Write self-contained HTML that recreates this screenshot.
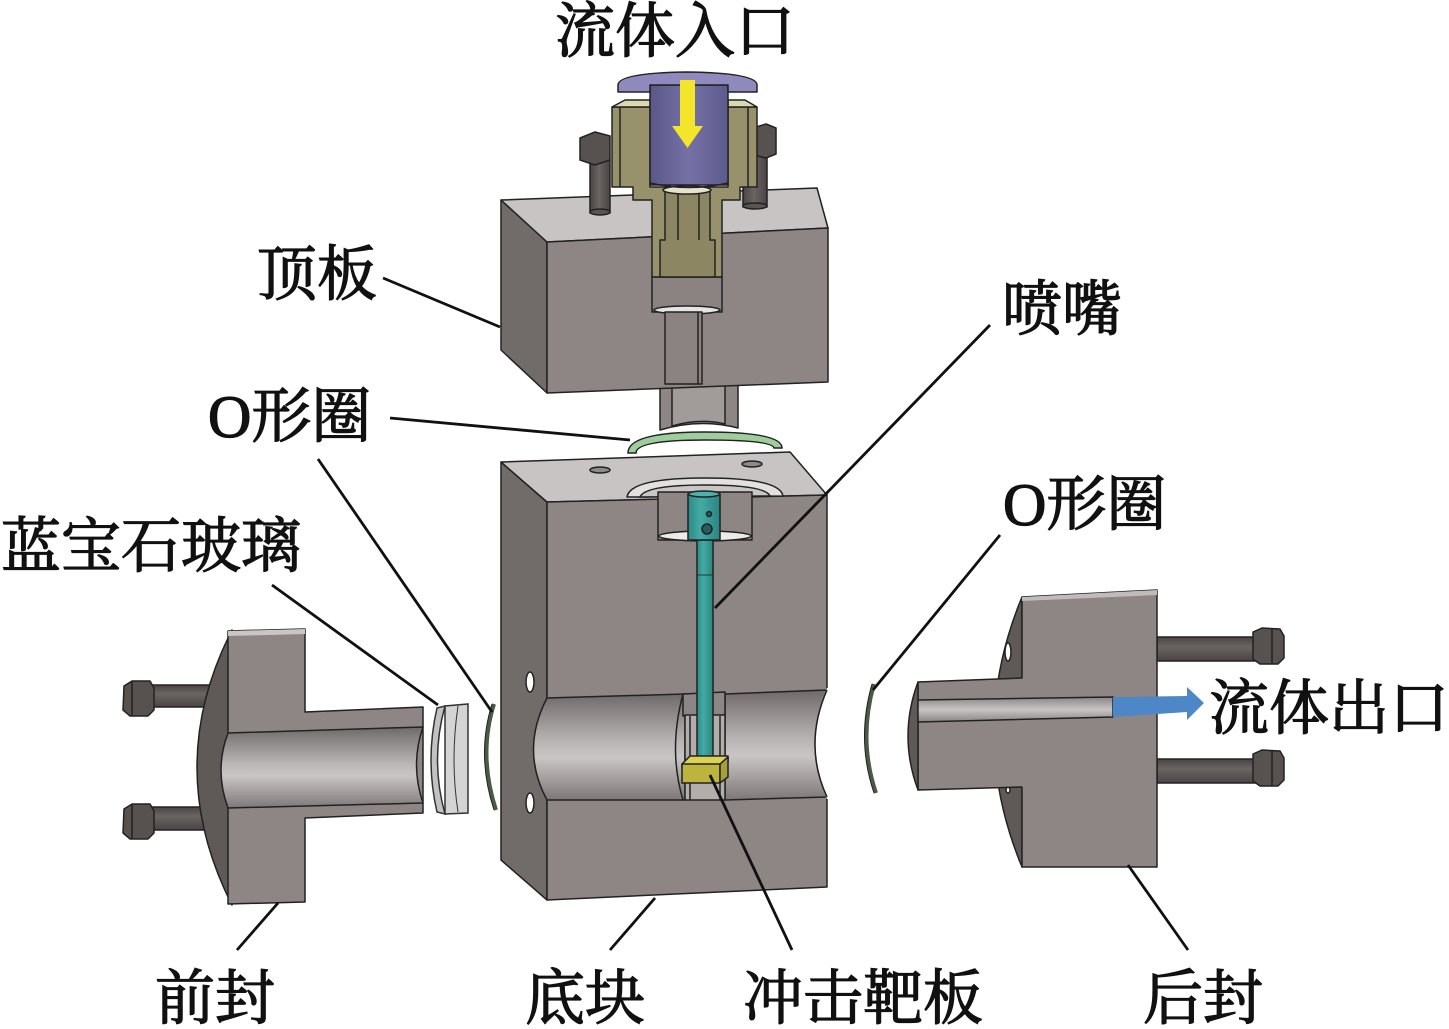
<!DOCTYPE html>
<html><head><meta charset="utf-8"><style>
html,body{margin:0;padding:0;background:#fff;}
svg{display:block;}
text{font-family:"Liberation Serif","Noto Serif CJK SC",serif;font-size:60px;fill:#111;stroke:#111;stroke-width:1.3px;}
</style></head><body>
<svg width="1449" height="1029" viewBox="0 0 1449 1029" xmlns="http://www.w3.org/2000/svg">
<defs>
<linearGradient id="chan" x1="0" y1="0" x2="0" y2="1">
<stop offset="0" stop-color="#6f6a69"/><stop offset="0.45" stop-color="#b9b5b4"/><stop offset="0.6" stop-color="#c9c5c4"/><stop offset="1" stop-color="#7d7877"/>
</linearGradient>
<linearGradient id="teal" x1="0" y1="0" x2="1" y2="0">
<stop offset="0" stop-color="#2b8c87"/><stop offset="0.4" stop-color="#44aaa5"/><stop offset="1" stop-color="#2a8581"/>
</linearGradient>
<linearGradient id="purp" x1="0" y1="0" x2="1" y2="0">
<stop offset="0" stop-color="#5a5788"/><stop offset="0.5" stop-color="#7571a6"/><stop offset="1" stop-color="#5d5a8c"/>
</linearGradient>
<linearGradient id="bolt" x1="0" y1="0" x2="0" y2="1">
<stop offset="0" stop-color="#4a4544"/><stop offset="0.4" stop-color="#6a6563"/><stop offset="1" stop-color="#4a4544"/>
</linearGradient>
<linearGradient id="boltv" x1="0" y1="0" x2="1" y2="0">
<stop offset="0" stop-color="#4a4544"/><stop offset="0.45" stop-color="#6a6563"/><stop offset="1" stop-color="#4a4544"/>
</linearGradient>
<linearGradient id="strip" x1="0" y1="0" x2="0" y2="1">
<stop offset="0" stop-color="#8a8584"/><stop offset="0.5" stop-color="#c8c4c3"/><stop offset="1" stop-color="#8a8584"/>
</linearGradient>
</defs>

<!-- ================= TOP PLATE ================= -->
<g stroke="#222" stroke-width="1.5" stroke-linejoin="round">
<path d="M660,380 L738,378 L738,428 Q700,418 660,430 Z" fill="#8e8685"/>
<path d="M672,386 L725,385 L725,424 Q700,418 672,426 Z" fill="#a19c9a"/>
<polygon points="501,200 547,242 547,393 501,350" fill="#716c6a"/>
<polygon points="501,200 817,188 828,228 547,242" fill="#c7c4c3"/>
<polygon points="547,242 828,228 828,382 547,393" fill="#8e8685"/>
<rect x="652" y="277" width="70" height="35" fill="#8a8381"/>
<ellipse cx="687" cy="310" rx="33" ry="4" fill="#e6e4e3"/>
<rect x="665" y="312" width="37" height="72" fill="#8a8381"/>
<line x1="698" y1="312" x2="698" y2="384"/>

<rect x="590" y="160" width="20" height="53" fill="url(#boltv)"/>
<ellipse cx="600" cy="212" rx="10" ry="3" fill="#5a5553"/>
<polygon points="580,138 595,132 610,136 610,160 595,165 580,160" fill="#57524f"/>
<rect x="743" y="155" width="24" height="52" fill="url(#boltv)"/>
<ellipse cx="755" cy="206" rx="12" ry="3" fill="#5a5553"/>
<polygon points="753,128 766,124 776,128 776,154 766,158 753,155" fill="#57524f"/>

<path d="M612,107 L650,107 L650,187 L728,187 L728,107 L757,107 L757,187 L740,187 L740,200 L722,200 L722,277 L652,277 L652,200 L633,200 L633,187 L612,187 Z" fill="#98926c"/>
<polygon points="612,107 625,100 650,100 650,107" fill="#dcd8ae"/>
<polygon points="728,100 745,100 757,107 728,107" fill="#dcd8ae"/>
<line x1="620" y1="107" x2="620" y2="187"/>
<line x1="748" y1="107" x2="748" y2="187"/>
<path d="M665,190 L710,190 L710,240 L715,240 L715,277 L660,277 L660,240 L665,240 Z" fill="#8c8662"/>
<line x1="678" y1="190" x2="678" y2="240"/>
<line x1="699" y1="190" x2="699" y2="240"/>
<ellipse cx="687" cy="190" rx="24" ry="4" fill="#e6e3cc"/>
<rect x="650" y="85" width="78" height="100" fill="url(#purp)"/>
<path d="M650,183 Q689,192 728,183" fill="none"/>
<path d="M618,85 Q618,73 687,72 Q757,73 757,85 L757,92 L728,92 L728,85 L650,85 L650,92 L618,92 Z" fill="#8e8abd"/>
<polygon points="680,80 695,80 695,126 703,126 687.5,148 672,126 680,126" fill="#f2e52a" stroke="none"/>
</g>

<path d="M628,453 Q628,432 705,432 Q782,432 782,448 L774,448 Q772,440 705,440 Q636,440 636,453 Z" fill="#9fcd9c" stroke="#222" stroke-width="1.5"/>

<!-- ================= BASE BLOCK ================= -->
<g stroke="#222" stroke-width="1.5" stroke-linejoin="round">
<polygon points="501,462 547,502 547,900 501,860" fill="#716c6a"/>
<polygon points="501,462 790,452 827,495 547,502" fill="#c7c4c3"/>
<polygon points="547,502 827,495 827,887 547,900" fill="#8e8685"/>
<ellipse cx="600" cy="470" rx="10" ry="3" fill="#8e8a89"/>
<ellipse cx="752" cy="464" rx="10" ry="3" fill="#8e8a89"/>
<path d="M627,497 Q630,478 705,478 Q780,478 783,496 Z" fill="#e3e1e0"/>
<path d="M640,497 Q645,485 705,485 Q765,485 770,496 Z" fill="#c9c6c5"/>
<rect x="658" y="492" width="94" height="48" fill="#8e8685"/>
<ellipse cx="705" cy="536" rx="46" ry="5" fill="#ecebea"/>
<ellipse cx="530" cy="682" rx="4" ry="10" fill="#fff"/>
<ellipse cx="530" cy="803" rx="4" ry="10" fill="#fff"/>
<path d="M547,698 L685,694 L685,800 L547,800 Q520,750 547,698 Z" fill="url(#chan)"/>
<path d="M683,694 Q668,750 683,800" fill="none"/>
<path d="M725,694 L827,690 Q803,745 827,797 L725,800 Z" fill="url(#chan)"/>
<path d="M827,688 Q803,745 827,799 L829,799 L829,688 Z" fill="#fff" stroke="none"/>
<path d="M827,690 Q803,745 827,797" fill="none"/>
<polygon points="683,694 725,692 725,715 683,716" fill="#8e8685"/>
<rect x="685" y="715" width="40" height="85" fill="#b3aeac"/>
<line x1="690" y1="716" x2="690" y2="800"/>
<line x1="720" y1="716" x2="720" y2="800"/>
<rect x="697" y="540" width="16" height="220" fill="url(#teal)"/>
<line x1="697" y1="575" x2="713" y2="575" stroke-width="0.8"/>
<rect x="688" y="494" width="32" height="46" fill="url(#teal)"/>
<ellipse cx="704" cy="494" rx="16" ry="3" fill="#4bb3ae"/>
<circle cx="709" cy="514" r="2.5" fill="#235f5c"/>
<circle cx="707" cy="529" r="5" fill="#235f5c"/>
<polygon points="682,764 690,756 728,756 728,762 720,768 682,768" fill="#d9d252"/>
<polygon points="682,764 720,764 720,783 682,783" fill="#bdb440"/>
<polygon points="720,764 728,757 728,777 720,783" fill="#a69e36"/>
</g>

<!-- ================= FRONT SEAL ================= -->
<g stroke="#222" stroke-width="1.5" stroke-linejoin="round">
<rect x="150" y="685" width="68" height="22" fill="url(#bolt)"/>
<polygon points="124,686 132,681 150,681 154,688 154,710 148,716 130,716 123,710" fill="#57524f"/>
<line x1="132" y1="681" x2="132" y2="716"/>
<rect x="150" y="807" width="68" height="23" fill="url(#bolt)"/>
<polygon points="124,809 132,804 150,804 154,811 154,833 148,839 130,839 123,833" fill="#57524f"/>
<line x1="132" y1="804" x2="132" y2="839"/>
<path d="M232,630 Q162,767 232,905 Z" fill="#5f5a58"/>
<polygon points="228,631 305,629 305,712 423,707 423,813 305,818 305,902 228,904" fill="#8e8685"/>
<polygon points="228,631 305,629 305,634 228,636" fill="#c9c6c5" stroke="none"/>
<path d="M228,733 L423,727 Q410,765 423,803 L228,808 Q214,770 228,733 Z" fill="url(#chan)"/>
</g>

<g stroke="#333" stroke-width="1.5">
<path d="M445,706 L468,704 L468,813 L445,814 Z" fill="#d4d4d4"/>
<path d="M445,706 Q430,760 445,814 L437,812 Q425,760 437,708 Z" fill="#c2c2c2"/>
<path d="M458,706 Q450,760 458,812" fill="none" stroke-width="1"/>
</g>

<path d="M494,704 Q478,755 496,810" fill="none" stroke="#4a5a44" stroke-width="4"/>
<path d="M494,704 Q478,755 496,810" fill="none" stroke="#222" stroke-width="1" transform="translate(-2,0)"/>

<path d="M874,684 Q858,740 876,793" fill="none" stroke="#4a5a44" stroke-width="4"/>
<path d="M874,684 Q858,740 876,793" fill="none" stroke="#222" stroke-width="1" transform="translate(-2,0)"/>

<!-- ================= BACK SEAL ================= -->
<g stroke="#222" stroke-width="1.5" stroke-linejoin="round">
<rect x="1157" y="637" width="98" height="24" fill="url(#bolt)"/>
<polygon points="1253,632 1262,628 1280,629 1284,636 1284,658 1278,664 1260,664 1253,659" fill="#57524f"/>
<line x1="1272" y1="629" x2="1272" y2="664"/>
<rect x="1157" y="759" width="98" height="24" fill="url(#bolt)"/>
<polygon points="1253,754 1262,750 1280,751 1284,758 1284,780 1278,786 1260,786 1253,781" fill="#57524f"/>
<line x1="1272" y1="751" x2="1272" y2="786"/>
<path d="M1022,597 Q966,732 1022,867 Z" fill="#5f5a58"/>
<ellipse cx="1008" cy="652" rx="3" ry="9" fill="#fff"/>
<ellipse cx="1008" cy="790" rx="2" ry="3" fill="#fff"/>
<polygon points="1022,597 1157,590 1157,867 1022,867 1022,787 918,790 918,682 1022,678" fill="#8e8685"/>
<polygon points="1022,597 1157,590 1157,595 1022,601" fill="#c0bcbb" stroke="none"/>
<path d="M918,682 Q898,736 918,790 Z" fill="#5f5a58"/>
<polygon points="918,700 1113,697 1113,717 918,722" fill="url(#strip)"/>
</g>
<polygon points="1113,697 1187,696 1187,687 1204,703 1187,720 1187,712 1113,717" fill="#4d87c7"/>

<!-- ================= LEADER LINES ================= -->
<g stroke="#111" stroke-width="2.8" fill="none">
<line x1="383" y1="278" x2="500" y2="327"/>
<line x1="390" y1="418" x2="630" y2="440"/>
<line x1="318" y1="459" x2="492" y2="712"/>
<line x1="272" y1="585" x2="438" y2="705"/>
<line x1="990" y1="325" x2="715" y2="608"/>
<line x1="1000" y1="535" x2="873" y2="690"/>
<line x1="237" y1="950" x2="278" y2="903"/>
<line x1="610" y1="950" x2="655" y2="898"/>
<line x1="792" y1="950" x2="710" y2="775"/>
<line x1="1188" y1="950" x2="1128" y2="865"/>
</g>

<!-- ================= LABELS ================= -->
<text x="555" y="52">流体入口</text>
<text x="257" y="295">顶板</text>
<text x="208" y="437">O形圈</text>
<text x="1" y="567">蓝宝石玻璃</text>
<text x="1002" y="330">喷嘴</text>
<text x="1003" y="525">O形圈</text>
<text x="1209" y="729">流体出口</text>
<text x="155" y="1019">前封</text>
<text x="525" y="1019">底块</text>
<text x="743" y="1019">冲击靶板</text>
<text x="1143" y="1019">后封</text>
</svg>
</body></html>
